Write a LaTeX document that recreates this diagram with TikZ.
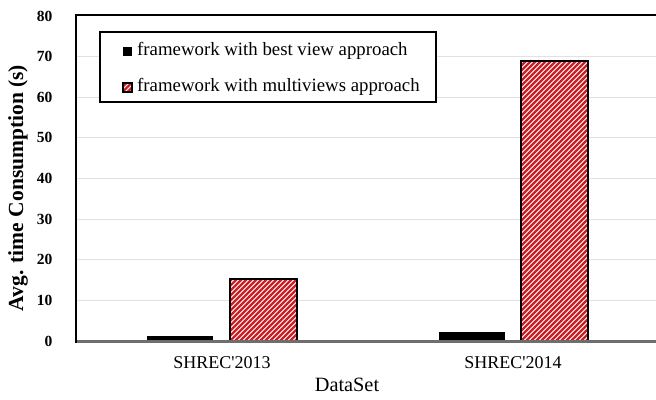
\documentclass[tikz,border=0pt]{standalone}
\usepackage{fontspec}
\setmainfont{Liberation Serif}
\newfontfamily\rawserif{Liberation Serif}[Ligatures=ResetAll]
\definecolor{hred}{RGB}{205,30,35}
\definecolor{gridc}{RGB}{225,225,225}
\definecolor{axisc}{RGB}{110,110,110}
\tikzset{
  gridline/.style={gridc, line width=1pt},
  ytick/.style={anchor=east, font=\fontsize{15.5}{15.5}\selectfont\bfseries, inner sep=0pt},
  xtick/.style={font=\rawserif\fontsize{18}{18}\selectfont, inner sep=0pt},
  solidbar/.style={fill=black, draw=black, line width=1pt},
  hatchbar/.style={draw=black, line width=2pt},
  legtext/.style={anchor=west, font=\fontsize{18.8}{18.8}\selectfont, inner sep=0pt},
}
\newcommand{\hatchbox}[4]{% x1 y1 x2 y2
  \fill[white] (#1,#2) rectangle (#3,#4);
  \begin{scope}
    \clip (#1,#2) rectangle (#3,#4);
    \foreach \k in {-400,-395,...,100} {
      \draw[hred, line width=2.2pt] (#1+\k,#4) -- (#1+\k+300,#4-300);
    }
  \end{scope}
  \draw[hatchbar] (#1,#2) rectangle (#3,#4);
}
\begin{document}
\begin{tikzpicture}[x=1pt,y=-1pt]
\useasboundingbox (0,0) rectangle (656,399);
% grid
\foreach \v in {10,20,...,70} {
  \draw[gridline] (77,{341-\v*4.0625}) -- (656,{341-\v*4.0625});
}
% y tick labels
\foreach \v in {0,10,...,80} {
  \node[ytick] (yt\v) at (52.5,{341-\v*4.0625}) {\v};
}
% bars
\draw[solidbar] (147,341) rectangle (212,336);
\hatchbox{230}{279}{297}{341}
\draw[solidbar] (439,341) rectangle (504,332.5);
\hatchbox{521}{61}{588}{341}
% axes / frame
\draw[axisc, line width=3pt] (76,341) -- (656,341);
\draw[black, line width=2.5pt] (76,15) -- (656,15);
\draw[black, line width=2.5pt] (76,14) -- (76,342.5);
% x labels
\node[xtick] (x1) at (222,363) {SHREC'2013};
\node[xtick] (x2) at (513,363) {SHREC'2014};
\node[font=\fontsize{20.3}{20.3}\selectfont, inner sep=0pt] (xl) at (347,385) {DataSet};
\node[rotate=90, font=\fontsize{21.5}{21.5}\selectfont\bfseries, inner sep=0pt] (yl) at (18,188) {Avg. time Consumption (s)};
% legend
\draw[fill=white, line width=2.5pt] (100,32) rectangle (436,102);
\fill[black] (123,46.5) rectangle (132,55.5);
\node[legtext] (l1) at (137,51) {framework with best view approach};
\hatchbox{123}{82.5}{132}{91.5}
\node[legtext] (l2) at (137,87) {framework with multiviews approach};
\end{tikzpicture}
\end{document}
